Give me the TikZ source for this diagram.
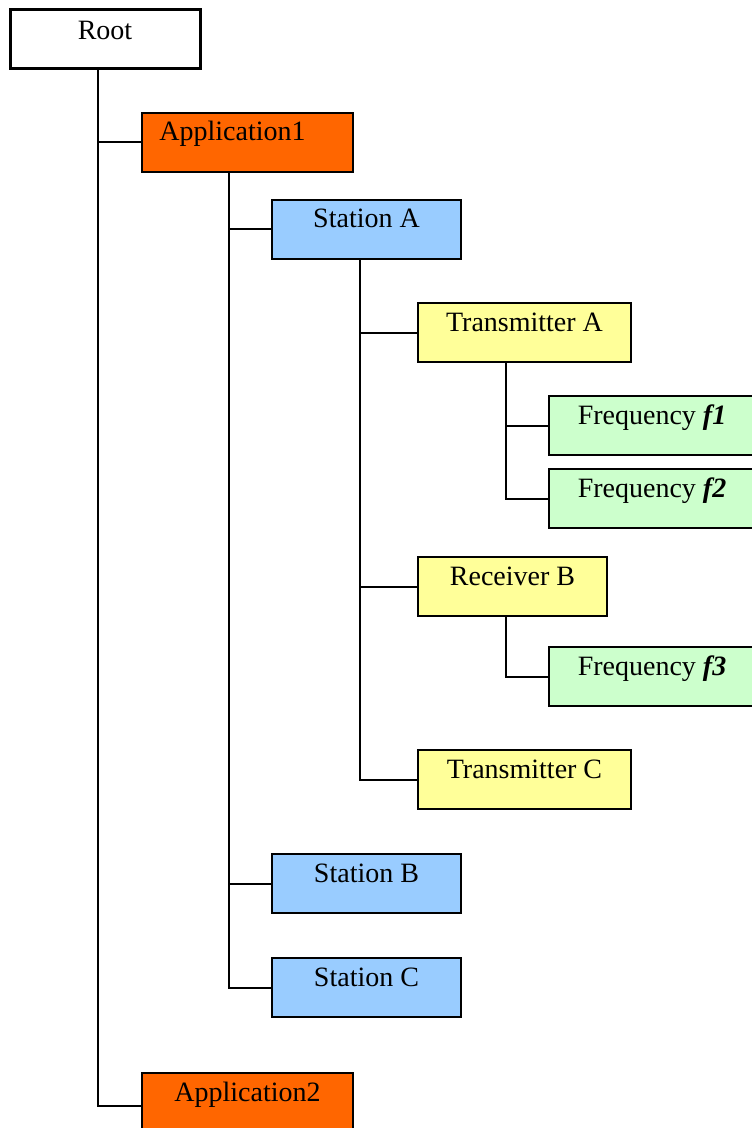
\documentclass[tikz,border=0pt]{standalone}
\usepackage{fontspec}
\setmainfont{Liberation Serif}
\definecolor{apporange}{HTML}{FF6600}
\definecolor{stblue}{HTML}{99CCFF}
\definecolor{txyellow}{HTML}{FFFF99}
\definecolor{frgreen}{HTML}{CCFFCC}
\begin{document}
\begin{tikzpicture}[x=1pt,y=-1pt,
  box/.style={draw, line width=2pt, minimum height=59pt, anchor=north west, inner sep=0pt, outer sep=0pt},
  txt/.style={anchor=base, font=\fontsize{28}{32}\selectfont, inner sep=0pt},
  conn/.style={line width=2pt}]
\useasboundingbox (0,0) rectangle (752,1128);
\clip (0,0) rectangle (752,1128);
% boxes
\node[box, line width=3pt, fill=white, minimum width=190pt] (root) at (10,9.5) {};
\node[box, fill=apporange, minimum width=211pt] (app1) at (142,112.5) {};
\node[box, fill=stblue, minimum width=189pt] (sta) at (272,199.5) {};
\node[box, fill=txyellow, minimum width=213pt] (txa) at (418,303) {};
\node[box, fill=frgreen, minimum width=212pt] (f1) at (549,396) {};
\node[box, fill=frgreen, minimum width=212pt] (f2) at (549,469) {};
\node[box, fill=txyellow, minimum width=189pt] (rxb) at (418,557) {};
\node[box, fill=frgreen, minimum width=212pt] (f3) at (549,647) {};
\node[box, fill=txyellow, minimum width=213pt] (txc) at (418,750) {};
\node[box, fill=stblue, minimum width=189pt] (stb) at (272,854) {};
\node[box, fill=stblue, minimum width=189pt] (stc) at (272,958) {};
\node[box, fill=apporange, minimum width=211pt] (app2) at (142,1073) {};
% texts
\node[txt] (troot) at ([yshift=-30]root.north) {Root};
\node[txt] (tapp1) at ([xshift=-15,yshift=-28]app1.north) {Application1};
\node[txt] (tsta) at ([yshift=-28]sta.north) {Station A};
\node[txt] (ttxa) at ([yshift=-28]txa.north) {Transmitter A};
\node[txt] (tf1) at ([xshift=-3,yshift=-28]f1.north) {Frequency \textbf{\textit{f1}}};
\node[txt] (tf2) at ([xshift=-3,yshift=-28]f2.north) {Frequency \textbf{\textit{f2}}};
\node[txt] (trxb) at ([yshift=-28]rxb.north) {Receiver B};
\node[txt] (tf3) at ([xshift=-3,yshift=-28]f3.north) {Frequency \textbf{\textit{f3}}};
\node[txt] (ttxc) at ([yshift=-28]txc.north) {Transmitter C};
\node[txt] (tstb) at ([yshift=-28]stb.north) {Station B};
\node[txt] (tstc) at ([yshift=-28]stc.north) {Station C};
\node[txt] (tapp2) at ([yshift=-28]app2.north) {Application2};
% connectors
\draw[conn] ([xshift=-7]root.south) |- (app1.west);
\draw[conn] ([xshift=-7]root.south) |- ([yshift=-33]app2.north west);
\draw[conn] ([xshift=-18.5]app1.south) |- (sta.west);
\draw[conn] ([xshift=-18.5]app1.south) |- (stb.west);
\draw[conn] ([xshift=-18.5]app1.south) |- (stc.west);
\draw[conn] ([xshift=-6.5]sta.south) |- (txa.west);
\draw[conn] ([xshift=-6.5]sta.south) |- (rxb.west);
\draw[conn] ([xshift=-6.5]sta.south) |- (txc.west);
\draw[conn] ([xshift=-18.5]txa.south) |- (f1.west);
\draw[conn] ([xshift=-18.5]txa.south) |- (f2.west);
\draw[conn] ([xshift=-6.5]rxb.south) |- (f3.west);
\end{tikzpicture}
\end{document}
